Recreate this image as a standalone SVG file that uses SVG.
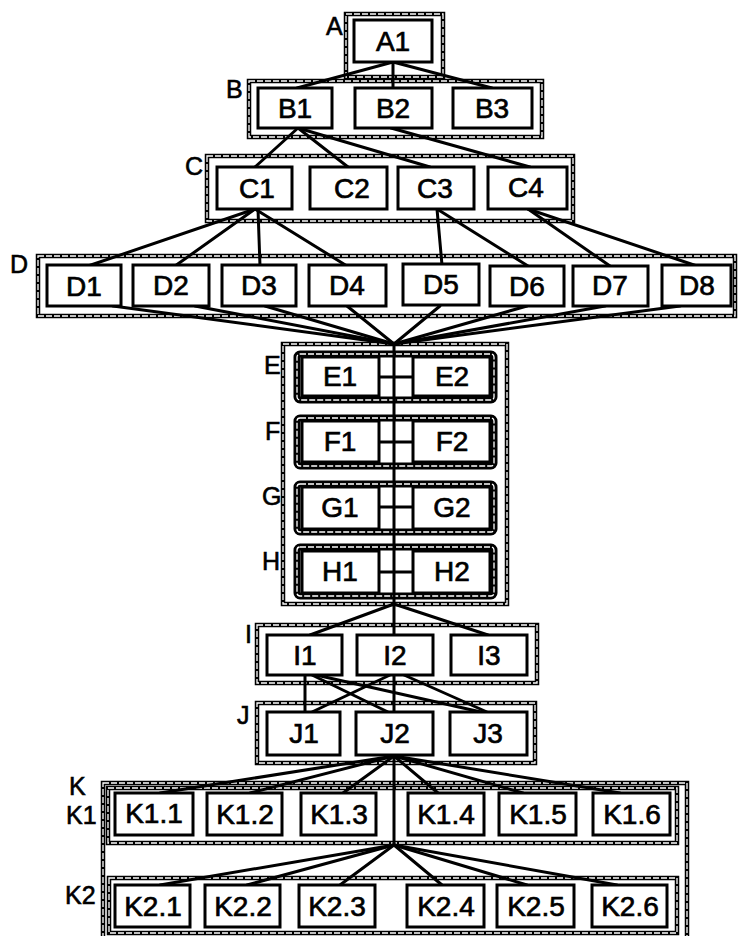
<svg xmlns="http://www.w3.org/2000/svg" width="739" height="936" viewBox="0 0 739 936">
<style>
.co{fill:none;stroke:#000;stroke-width:4.5}
.ci{fill:none;stroke:#fff;stroke-width:1.3;stroke-dasharray:6 2}
.gi{fill:none;stroke:#000;stroke-width:7}
.bx{fill:#fff;stroke:#000;stroke-width:3}
.t{font-family:"Liberation Sans",Arial,sans-serif;font-size:28px;fill:#000;stroke:#000;stroke-width:0.7;text-anchor:middle}
.lb{font-family:"Liberation Sans",Arial,sans-serif;font-size:25px;fill:#000;stroke:#000;stroke-width:0.6}
.cn line{stroke:#000;stroke-width:3;stroke-linecap:round}
</style>
<rect width="739" height="936" fill="#fff"/>

<!-- containers -->
<g id="grpA"><rect class="co" x="346" y="14" width="97" height="63"/><rect class="ci" x="346" y="14" width="97" height="63"/><text class="lb" x="326" y="35">A</text></g>
<g id="grpB"><rect class="co" x="249" y="81" width="293" height="56"/><rect class="ci" x="249" y="81" width="293" height="56"/><text class="lb" x="226" y="98">B</text></g>
<g id="grpC"><rect class="co" x="207" y="156" width="366" height="65"/><rect class="ci" x="207" y="156" width="366" height="65"/><text class="lb" x="185" y="175">C</text></g>
<g id="grpD"><rect class="co" x="38" y="256" width="697" height="60"/><rect class="ci" x="38" y="256" width="697" height="60"/><text class="lb" x="10" y="273">D</text></g>
<g id="grpEH"><rect class="co" x="283" y="344" width="224" height="260"/><rect class="ci" x="283" y="344" width="224" height="260"/></g>
<g id="grpE"><rect class="gi" x="297" y="354" width="197" height="46" rx="3"/><rect class="ci" x="297" y="354" width="197" height="46" rx="3"/><text class="lb" x="264" y="374">E</text></g>
<g id="grpF"><rect class="gi" x="297" y="418" width="197" height="48" rx="3"/><rect class="ci" x="297" y="418" width="197" height="48" rx="3"/><text class="lb" x="265" y="440">F</text></g>
<g id="grpG"><rect class="gi" x="297" y="484" width="197" height="48" rx="3"/><rect class="ci" x="297" y="484" width="197" height="48" rx="3"/><text class="lb" x="262" y="505">G</text></g>
<g id="grpH"><rect class="gi" x="297" y="547" width="197" height="49" rx="3"/><rect class="ci" x="297" y="547" width="197" height="49" rx="3"/><text class="lb" x="262" y="570">H</text></g>
<g id="grpI"><rect class="co" x="257" y="625" width="280" height="58"/><rect class="ci" x="257" y="625" width="280" height="58"/><text class="lb" x="245" y="643">I</text></g>
<g id="grpJ"><rect class="co" x="257" y="703" width="278" height="60"/><rect class="ci" x="257" y="703" width="278" height="60"/><text class="lb" x="237" y="724">J</text></g>
<g id="grpK"><rect class="co" x="103" y="783" width="584" height="170"/><rect class="ci" x="103" y="783" width="584" height="170"/><text class="lb" x="69" y="795">K</text></g>
<g id="grpK1"><rect class="co" x="108" y="788" width="569" height="55"/><rect class="ci" x="108" y="788" width="569" height="55"/><text class="lb" x="66" y="824">K1</text></g>
<g id="grpK2"><rect class="co" x="109" y="878" width="568" height="55"/><rect class="ci" x="109" y="878" width="568" height="55"/><text class="lb" x="65" y="904">K2</text></g>

<!-- connectors -->
<g id="connectors" class="cn">
<line x1="393" y1="62" x2="297" y2="88"/>
<line x1="393" y1="62" x2="393" y2="88"/>
<line x1="393" y1="62" x2="492" y2="88"/>
<line x1="298" y1="128" x2="255" y2="167"/>
<line x1="298" y1="128" x2="348" y2="167"/>
<line x1="298" y1="128" x2="430" y2="167"/>
<line x1="391" y1="128" x2="530" y2="167"/>
<line x1="255" y1="209" x2="88" y2="266"/>
<line x1="255" y1="209" x2="175" y2="266"/>
<line x1="258" y1="209" x2="260" y2="266"/>
<line x1="255" y1="209" x2="347" y2="266"/>
<line x1="437" y1="209" x2="442" y2="265"/>
<line x1="437" y1="209" x2="528" y2="266"/>
<line x1="528" y1="209" x2="610" y2="266"/>
<line x1="528" y1="209" x2="697" y2="266"/>
<line x1="113" y1="306" x2="394" y2="344"/>
<line x1="195" y1="306" x2="394" y2="344"/>
<line x1="265" y1="306" x2="394" y2="344"/>
<line x1="347" y1="306" x2="394" y2="344"/>
<line x1="440" y1="306" x2="394" y2="344"/>
<line x1="527" y1="306" x2="394" y2="344"/>
<line x1="605" y1="306" x2="394" y2="344"/>
<line x1="680" y1="306" x2="394" y2="344"/>
<line x1="394" y1="344" x2="394" y2="635"/>
<line x1="379" y1="377" x2="413" y2="377"/>
<line x1="379" y1="442" x2="413" y2="442"/>
<line x1="379" y1="507" x2="413" y2="507"/>
<line x1="379" y1="572" x2="413" y2="572"/>
<line x1="394" y1="604" x2="310" y2="635"/>
<line x1="394" y1="604" x2="488" y2="635"/>
<line x1="305" y1="675" x2="305" y2="712"/>
<line x1="312" y1="675" x2="388" y2="712"/>
<line x1="316" y1="675" x2="481" y2="712"/>
<line x1="390" y1="675" x2="312" y2="712"/>
<line x1="394" y1="675" x2="394" y2="712"/>
<line x1="404" y1="675" x2="487" y2="712"/>
<line x1="394" y1="756" x2="160" y2="793"/>
<line x1="394" y1="756" x2="250" y2="793"/>
<line x1="394" y1="756" x2="343" y2="793"/>
<line x1="394" y1="756" x2="438" y2="793"/>
<line x1="394" y1="756" x2="523" y2="793"/>
<line x1="394" y1="756" x2="620" y2="793"/>
<line x1="394" y1="756" x2="394" y2="845"/>
<line x1="394" y1="845" x2="160" y2="885"/>
<line x1="394" y1="845" x2="247" y2="885"/>
<line x1="394" y1="845" x2="340" y2="885"/>
<line x1="394" y1="845" x2="442" y2="885"/>
<line x1="394" y1="845" x2="527" y2="885"/>
<line x1="394" y1="845" x2="617" y2="885"/>
</g>

<!-- nodes -->
<g id="A1"><rect class="bx" x="354" y="20" width="78" height="42"/><text class="t" x="393" y="51">A1</text></g>
<g id="B1"><rect class="bx" x="258" y="88" width="74" height="40"/><text class="t" x="295" y="118">B1</text></g>
<g id="B2"><rect class="bx" x="355" y="88" width="77" height="40"/><text class="t" x="393" y="118">B2</text></g>
<g id="B3"><rect class="bx" x="453" y="88" width="79" height="40"/><text class="t" x="492" y="118">B3</text></g>
<g id="C1"><rect class="bx" x="217" y="167" width="75" height="42"/><text class="t" x="257" y="198">C1</text></g>
<g id="C2"><rect class="bx" x="310" y="167" width="77" height="42"/><text class="t" x="352" y="198">C2</text></g>
<g id="C3"><rect class="bx" x="398" y="167" width="76" height="42"/><text class="t" x="435" y="198">C3</text></g>
<g id="C4"><rect class="bx" x="488" y="167" width="79" height="42"/><text class="t" x="526" y="197">C4</text></g>
<g id="D1"><rect class="bx" x="47" y="265" width="74" height="41"/><text class="t" x="84" y="296">D1</text></g>
<g id="D2"><rect class="bx" x="133" y="265" width="76" height="41"/><text class="t" x="171" y="295">D2</text></g>
<g id="D3"><rect class="bx" x="222" y="265" width="74" height="41"/><text class="t" x="259" y="295">D3</text></g>
<g id="D4"><rect class="bx" x="309" y="265" width="77" height="41"/><text class="t" x="347" y="295">D4</text></g>
<g id="D5"><rect class="bx" x="403" y="264" width="76" height="41"/><text class="t" x="441" y="294">D5</text></g>
<g id="D6"><rect class="bx" x="490" y="266" width="74" height="40"/><text class="t" x="527" y="296">D6</text></g>
<g id="D7"><rect class="bx" x="573" y="266" width="75" height="40"/><text class="t" x="610" y="295">D7</text></g>
<g id="D8"><rect class="bx" x="662" y="265" width="69" height="41"/><text class="t" x="697" y="295">D8</text></g>
<g id="E1"><rect class="bx" x="302" y="357" width="77" height="39"/><text class="t" x="340" y="386">E1</text></g>
<g id="E2"><rect class="bx" x="413" y="357" width="77" height="39"/><text class="t" x="452" y="386">E2</text></g>
<g id="F1"><rect class="bx" x="302" y="421" width="77" height="41"/><text class="t" x="340" y="451">F1</text></g>
<g id="F2"><rect class="bx" x="413" y="421" width="77" height="41"/><text class="t" x="452" y="451">F2</text></g>
<g id="G1"><rect class="bx" x="302" y="487" width="77" height="42"/><text class="t" x="340" y="517">G1</text></g>
<g id="G2"><rect class="bx" x="413" y="487" width="77" height="42"/><text class="t" x="452" y="517">G2</text></g>
<g id="H1"><rect class="bx" x="302" y="551" width="77" height="42"/><text class="t" x="340" y="581">H1</text></g>
<g id="H2"><rect class="bx" x="413" y="551" width="77" height="42"/><text class="t" x="452" y="581">H2</text></g>
<g id="I1"><rect class="bx" x="267" y="635" width="75" height="40"/><text class="t" x="305" y="665">I1</text></g>
<g id="I2"><rect class="bx" x="357" y="635" width="76" height="40"/><text class="t" x="395" y="665">I2</text></g>
<g id="I3"><rect class="bx" x="451" y="635" width="76" height="40"/><text class="t" x="489" y="665">I3</text></g>
<g id="J1"><rect class="bx" x="267" y="712" width="73" height="43"/><text class="t" x="304" y="743">J1</text></g>
<g id="J2"><rect class="bx" x="356" y="712" width="77" height="43"/><text class="t" x="395" y="743">J2</text></g>
<g id="J3"><rect class="bx" x="450" y="712" width="77" height="43"/><text class="t" x="488" y="743">J3</text></g>
<g id="K1.1"><rect class="bx" x="115" y="793" width="78" height="42"/><text class="t" x="154" y="823">K1.1</text></g>
<g id="K1.2"><rect class="bx" x="207" y="793" width="75" height="42"/><text class="t" x="245" y="824">K1.2</text></g>
<g id="K1.3"><rect class="bx" x="301" y="793" width="75" height="42"/><text class="t" x="339" y="824">K1.3</text></g>
<g id="K1.4"><rect class="bx" x="408" y="793" width="76" height="42"/><text class="t" x="446" y="824">K1.4</text></g>
<g id="K1.5"><rect class="bx" x="499" y="793" width="77" height="42"/><text class="t" x="538" y="824">K1.5</text></g>
<g id="K1.6"><rect class="bx" x="593" y="793" width="77" height="42"/><text class="t" x="632" y="824">K1.6</text></g>
<g id="K2.1"><rect class="bx" x="115" y="885" width="75" height="42"/><text class="t" x="153" y="916">K2.1</text></g>
<g id="K2.2"><rect class="bx" x="205" y="885" width="75" height="42"/><text class="t" x="243" y="916">K2.2</text></g>
<g id="K2.3"><rect class="bx" x="299" y="885" width="76" height="42"/><text class="t" x="337" y="916">K2.3</text></g>
<g id="K2.4"><rect class="bx" x="407" y="885" width="77" height="42"/><text class="t" x="446" y="916">K2.4</text></g>
<g id="K2.5"><rect class="bx" x="497" y="885" width="77" height="42"/><text class="t" x="536" y="916">K2.5</text></g>
<g id="K2.6"><rect class="bx" x="592" y="885" width="75" height="42"/><text class="t" x="630" y="916">K2.6</text></g>
</svg>
